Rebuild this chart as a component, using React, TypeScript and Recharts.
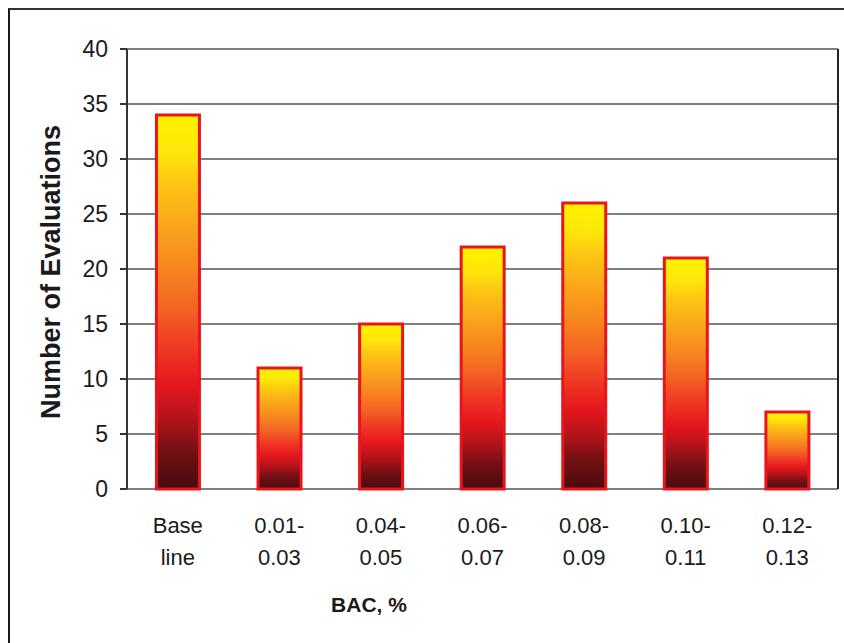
import React from "react";
import { BarChart, Bar, XAxis, YAxis, CartesianGrid, ReferenceLine } from "recharts";

const categories = ["Base\nline", "0.01-\n0.03", "0.04-\n0.05", "0.06-\n0.07", "0.08-\n0.09", "0.10-\n0.11", "0.12-\n0.13"];
const evaluations = [34, 11, 15, 22, 26, 21, 7];
const yTicks = [0, 5, 10, 15, 20, 25, 30, 35, 40];
const boundaryTicks = [0, 1, 2, 3, 4, 5, 6, 7];

const data = categories.map((c, i) => ({ category: c, evaluations: evaluations[i] }));

const CategoryTick = (props: any) => {
  const { x, y, payload } = props;
  const lines = String(payload.value).split("\n");
  return (
    <text
      x={x}
      y={y}
      textAnchor="middle"
      fill="#1a1a1a"
      style={{ fontFamily: "'Liberation Sans', Arial, sans-serif", fontSize: 22 }}
    >
      {lines.map((l, i) => (
        <tspan key={i} x={x} y={y + 44 + i * 32}>
          {l}
        </tspan>
      ))}
    </text>
  );
};

export default function App() {
  return (
    <div
      style={{
        position: "absolute",
        left: 8,
        top: 8,
        width: 836,
        height: 635,
        borderTop: "2px solid #333",
        borderLeft: "2px solid #1a1a1a",
        boxSizing: "border-box",
        background: "#fff",
      }}
    >
      <BarChart
        width={834}
        height={633}
        data={data}
        margin={{ top: 39, right: 6, left: 0, bottom: 0 }}
        barCategoryGap="29%"
      >
        <defs>
          <linearGradient id="barGrad" x1="0" y1="0" x2="0" y2="1">
            <stop offset="0%" stopColor="#fff200" />
            <stop offset="10%" stopColor="#fee60a" />
            <stop offset="18%" stopColor="#fcc613" />
            <stop offset="30%" stopColor="#faa41b" />
            <stop offset="42%" stopColor="#f6831f" />
            <stop offset="52%" stopColor="#f36223" />
            <stop offset="62%" stopColor="#f03a24" />
            <stop offset="72%" stopColor="#e6171d" />
            <stop offset="81%" stopColor="#b3141a" />
            <stop offset="90%" stopColor="#731014" />
            <stop offset="100%" stopColor="#470b0d" />
          </linearGradient>
        </defs>
        <CartesianGrid vertical={false} stroke="#555" strokeWidth={1.5} />
        <XAxis
          xAxisId="bounds"
          type="number"
          dataKey={() => 0}
          domain={[0, categories.length]}
          ticks={boundaryTicks}
          tick={false}
          tickLine={{ stroke: "#444", strokeWidth: 1 }}
          tickSize={7}
          axisLine={{ stroke: "#222", strokeWidth: 2 }}
          height={0}
          allowDataOverflow
        />
        <XAxis
          xAxisId="cat"
          dataKey="category"
          tick={<CategoryTick />}
          tickLine={false}
          axisLine={false}
          tickSize={0}
          tickMargin={0}
          interval={0}
          height={154}
          label={{
            content: (p: any) => {
              const vb = p.viewBox || {};
              return (
                <text
                  x={(vb.x || 0) + 242}
                  y={(vb.y || 0) + 123}
                  textAnchor="middle"
                  fill="#1a1a1a"
                  style={{ fontFamily: "'Liberation Sans', Arial, sans-serif", fontSize: 21, fontWeight: 700 }}
                >
                  BAC, %
                </text>
              );
            },
          }}
        />
        <YAxis
          domain={[0, 40]}
          ticks={yTicks}
          width={117}
          tickSize={7}
          tickMargin={12}
          axisLine={{ stroke: "#333", strokeWidth: 2 }}
          tickLine={{ stroke: "#333", strokeWidth: 2 }}
          tick={{ fill: "#1a1a1a", fontSize: 23, fontFamily: "'Liberation Sans', Arial, sans-serif" }}
          label={{
            content: (p: any) => {
              const vb = p.viewBox || {};
              const cx = 41;
              const cy = (vb.y || 0) + (vb.height || 0) / 2 + 3;
              return (
                <text
                  x={cx}
                  y={cy}
                  textAnchor="middle"
                  dominantBaseline="central"
                  transform={`rotate(-90 ${cx} ${cy})`}
                  fill="#1a1a1a"
                  style={{ fontFamily: "'Liberation Sans', Arial, sans-serif", fontSize: 27, fontWeight: 700 }}
                >
                  Number of Evaluations
                </text>
              );
            },
          }}
        />
        <ReferenceLine xAxisId="bounds" x={categories.length} stroke="#222" strokeWidth={2} />
        <Bar
          xAxisId="cat"
          dataKey="evaluations"
          fill="url(#barGrad)"
          stroke="#e8161c"
          strokeWidth={3}
          isAnimationActive={false}
        />
      </BarChart>
    </div>
  );
}
